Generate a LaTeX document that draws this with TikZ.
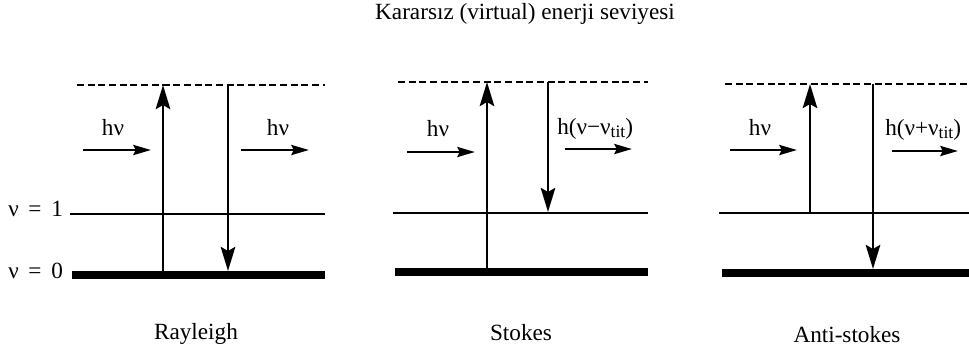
\documentclass[tikz,border=0pt]{standalone}
\usepackage{fontspec}
\setmainfont{Liberation Serif}
\usetikzlibrary{arrows.meta}
\newcommand{\vibsub}[1]{\raisebox{-0.3ex}{\fontsize{12.5}{13}\selectfont #1}}
\tikzset{
  level/.style={line width=2.1pt},
  groundlevel/.style={line width=5.8pt},
  virtuallevel/.style={line width=1.3pt,dash pattern=on 5pt off 2.6pt},
  transition/.style={-{Stealth[length=6mm,width=3.6mm,inset=1mm]},line width=2.1pt},
  photon/.style={-{Stealth[length=4.4mm,width=2.5mm,inset=0.6mm]},line width=2pt},
  lbl/.style={font=\fontsize{16.5}{19}\selectfont,inner sep=0pt}
}

\begin{document}
\begin{tikzpicture}[x=0.025cm,y=-0.025cm]
  \useasboundingbox (0,0) rectangle (969,351);
  \node[lbl,anchor=base] (title) at (525,19.5) {Kararsız (virtual) enerji seviyesi};

  % Rayleigh
  \draw[virtuallevel] (77,85) -- (325,85);
  \draw[level] (70,214) -- (325,214);
  \draw[groundlevel] (72,275) -- (325,275);
  \coordinate (ray-up0) at (163,275);
  \coordinate (ray-up1) at (163,85);
  \coordinate (ray-dn0) at (228,85);
  \coordinate (ray-dn1) at (228,271);
  \coordinate (ray-in0) at (83,150);
  \coordinate (ray-in1) at (151,150);
  \coordinate (ray-out0) at (241,150);
  \coordinate (ray-out1) at (309,150);
  \draw[transition] (ray-up0) -- (ray-up1);
  \draw[transition] (ray-dn0) -- (ray-dn1);
  \draw[photon] (ray-in0) -- (ray-in1);
  \draw[photon] (ray-out0) -- (ray-out1);
  \node[lbl,anchor=base] (ray-inlbl) at (113,135) {hν};
  \node[lbl,anchor=base] (ray-outlbl) at (278,135) {hν};
  \node[lbl,anchor=base west] (lvl1) at (8,216) {ν\hspace{0.42em}=\hspace{0.42em}1};
  \node[lbl,anchor=base west] (lvl0) at (8,278) {ν\hspace{0.42em}=\hspace{0.42em}0};
  \node[lbl,anchor=base] (rayleigh) at (196,339) {Rayleigh};

  % Stokes
  \draw[virtuallevel] (398,82) -- (648,82);
  \draw[level] (393,213) -- (648,213);
  \draw[groundlevel] (395,272) -- (648,272);
  \coordinate (sto-up0) at (487,272);
  \coordinate (sto-up1) at (487,82);
  \coordinate (sto-dn0) at (548,82);
  \coordinate (sto-dn1) at (548,212);
  \coordinate (sto-in0) at (407,152);
  \coordinate (sto-in1) at (475,152);
  \coordinate (sto-out0) at (565,149);
  \coordinate (sto-out1) at (632,149);
  \draw[transition] (sto-up0) -- (sto-up1);
  \draw[transition] (sto-dn0) -- (sto-dn1);
  \draw[photon] (sto-in0) -- (sto-in1);
  \draw[photon] (sto-out0) -- (sto-out1);
  \node[lbl,anchor=base] (sto-inlbl) at (438,136) {hν};
  \node[lbl,anchor=base west] (sto-outlbl) at (557,134) {h(ν−ν\vibsub{tit})};
  \node[lbl,anchor=base] (stokes) at (521,340) {Stokes};

  % Anti-stokes
  \draw[virtuallevel] (725,84) -- (969,84);
  \draw[level] (719,213) -- (969,213);
  \draw[groundlevel] (722,273) -- (969,273);
  \coordinate (ant-up0) at (810,213);
  \coordinate (ant-up1) at (810,84);
  \coordinate (ant-dn0) at (873,84);
  \coordinate (ant-dn1) at (873,269);
  \coordinate (ant-in0) at (730,150);
  \coordinate (ant-in1) at (797,150);
  \coordinate (ant-out0) at (892,151);
  \coordinate (ant-out1) at (958,151);
  \draw[transition] (ant-up0) -- (ant-up1);
  \draw[transition] (ant-dn0) -- (ant-dn1);
  \draw[photon] (ant-in0) -- (ant-in1);
  \draw[photon] (ant-out0) -- (ant-out1);
  \node[lbl,anchor=base] (ant-inlbl) at (760,135) {hν};
  \node[lbl,anchor=base west] (ant-outlbl) at (885,135) {h(ν+ν\vibsub{tit})};
  \node[lbl,anchor=base] (antistokes) at (847,342) {Anti-stokes};
\end{tikzpicture}
\end{document}
